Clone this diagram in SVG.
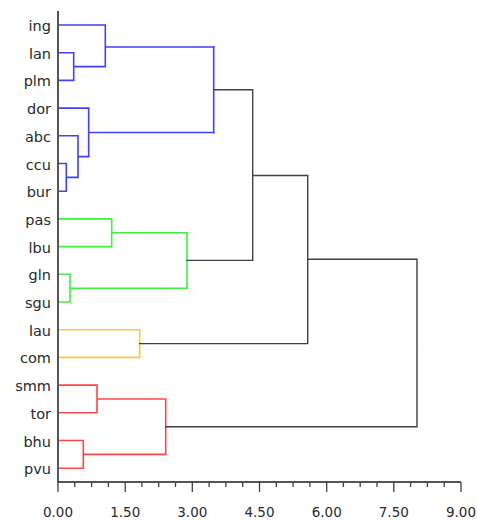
<svg xmlns="http://www.w3.org/2000/svg" width="478" height="520" viewBox="0 0 478 520">
  <style>
    .lbl { font-family: "DejaVu Sans", "Liberation Sans", sans-serif; font-size: 14.5px; fill: #2a2a2a; text-anchor: end; }
    .tick { font-family: "DejaVu Sans", "Liberation Sans", sans-serif; font-size: 13.5px; fill: #2a2a2a; text-anchor: middle; }
    .link { fill: none; stroke-width: 1.6; stroke-linecap: square; }
    .blue { stroke: #4040ff; }
    .green { stroke: #40f040; }
    .yellow { stroke: #ffc830; }
    .red { stroke: #ff4545; }
    .dark { stroke: #404040; stroke-width: 1.4; }
    .axis { fill: none; stroke: #555; stroke-width: 2; }
    .ticks { fill: none; stroke: #404040; stroke-width: 1.3; }
  </style>
  <rect width="478" height="520" fill="#fff"/>

  <!-- leaf labels -->
  <g id="leaf-ing"><text class="lbl" x="51" y="31">ing</text></g>
  <g id="leaf-lan"><text class="lbl" x="51" y="58.7">lan</text></g>
  <g id="leaf-plm"><text class="lbl" x="51" y="86.4">plm</text></g>
  <g id="leaf-dor"><text class="lbl" x="51" y="114.1">dor</text></g>
  <g id="leaf-abc"><text class="lbl" x="51" y="141.8">abc</text></g>
  <g id="leaf-ccu"><text class="lbl" x="51" y="169.5">ccu</text></g>
  <g id="leaf-bur"><text class="lbl" x="51" y="197.2">bur</text></g>
  <g id="leaf-pas"><text class="lbl" x="51" y="224.9">pas</text></g>
  <g id="leaf-lbu"><text class="lbl" x="51" y="252.6">lbu</text></g>
  <g id="leaf-gln"><text class="lbl" x="51" y="280.3">gln</text></g>
  <g id="leaf-sgu"><text class="lbl" x="51" y="308">sgu</text></g>
  <g id="leaf-lau"><text class="lbl" x="51" y="335.7">lau</text></g>
  <g id="leaf-com"><text class="lbl" x="51" y="363.4">com</text></g>
  <g id="leaf-smm"><text class="lbl" x="51" y="391.1">smm</text></g>
  <g id="leaf-tor"><text class="lbl" x="51" y="418.8">tor</text></g>
  <g id="leaf-bhu"><text class="lbl" x="51" y="446.5">bhu</text></g>
  <g id="leaf-pvu"><text class="lbl" x="51" y="474.2">pvu</text></g>

  <!-- dendrogram links -->
  <g id="connectors">
    <!-- blue cluster -->
    <path class="link blue" d="M58,52.7 H73.7 V80.4 H58 M73.7,66.6 H105.3 M58,25 H105.3 V66.6 M105.3,47 H213.7"/>
    <path class="link blue" d="M58,163.5 H66.3 V191.2 H58 M66.3,177.4 H78 M58,135.8 H78 V177.4 M78,156.6 H88.7 M58,108.1 H88.7 V156.6 M88.7,132.5 H213.7"/>
    <path class="link blue" d="M213.7,47 V132.5"/>
    <!-- green cluster -->
    <path class="link green" d="M58,218.9 H111.7 V246.6 H58 M111.7,232.8 H187 M58,274.3 H70 V302 H58 M70,288.2 H187 M187,232.8 V288.2"/>
    <!-- yellow cluster -->
    <path class="link yellow" d="M58,329.7 H139.7 V357.4 H58"/>
    <!-- red cluster -->
    <path class="link red" d="M58,385.1 H97 V412.8 H58 M97,399 H165.7 M58,440.5 H83.3 V468.2 H58 M83.3,454.4 H165.7 M165.7,399 V454.4"/>
    <!-- upper-level joins -->
    <path class="link dark" d="M213.7,89.7 H252.7 M187,260.4 H252.7 M252.7,89.7 V260.4 M252.7,175.5 H307.7 M139.7,343.6 H307.7 M307.7,175.5 V343.6 M307.7,259.3 H417 M165.7,426.7 H417 M417,259.3 V426.7"/>
  </g>

  <!-- axis -->
  <g id="axis">
    <path class="axis" d="M58,11 V482 H461"/>
    <path class="ticks" d="M58,482 V492 M125.2,482 V492 M192.3,482 V492 M259.5,482 V492 M326.7,482 V492 M393.8,482 V492 M461,482 V492
      M74.8,482 V487 M91.6,482 V487 M108.4,482 V487 M141.9,482 V487 M158.7,482 V487 M175.5,482 V487
      M209.1,482 V487 M225.9,482 V487 M242.7,482 V487 M276.3,482 V487 M293.1,482 V487 M309.9,482 V487
      M343.4,482 V487 M360.2,482 V487 M377,482 V487 M410.6,482 V487 M427.4,482 V487 M444.2,482 V487"/>
    <text class="tick" x="58" y="516.5">0.00</text>
    <text class="tick" x="125.2" y="516.5">1.50</text>
    <text class="tick" x="192.3" y="516.5">3.00</text>
    <text class="tick" x="259.5" y="516.5">4.50</text>
    <text class="tick" x="326.7" y="516.5">6.00</text>
    <text class="tick" x="393.8" y="516.5">7.50</text>
    <text class="tick" x="461" y="516.5">9.00</text>
  </g>
</svg>
